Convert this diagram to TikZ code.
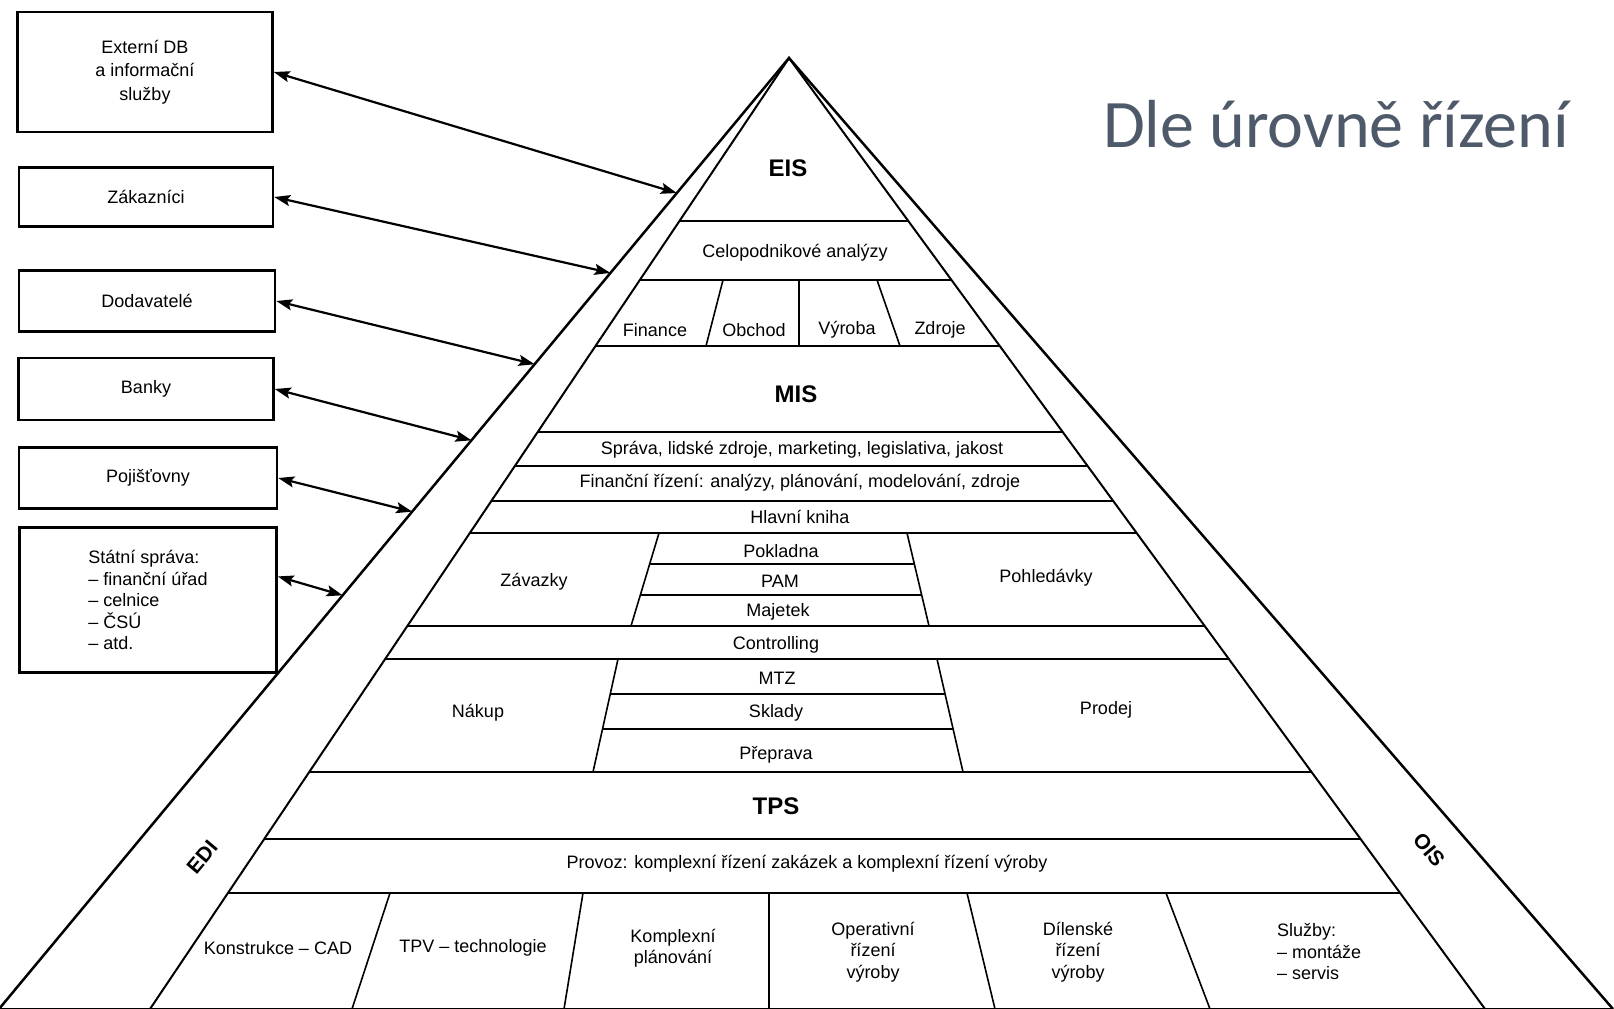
\documentclass[tikz,border=0pt]{standalone}
\usepackage{fontspec}
\setmainfont{Liberation Sans}
\newfontfamily\titlefont{Carlito}
\usetikzlibrary{calc,arrows.meta}
\definecolor{titlegrey}{RGB}{78,90,106}
\def\lblsize{\fontsize{18}{21.5}\selectfont}
\def\rowline#1#2{\draw[line width=#2] ($(top)!{(#1-58)/951}!(EDIin)$) -- ($(top)!{(#1-58)/951}!(OISin)$);}
\tikzset{
	box/.style={draw, line width=2.5pt, align=center, inner sep=0pt, font=\lblsize},
	lbl/.style={align=center, inner sep=0pt, font=\lblsize},
	lvl/.style={inner sep=0pt, font=\fontsize{24}{28}\selectfont\bfseries},
	band/.style={inner sep=0pt, font=\fontsize{21}{24}\selectfont\bfseries},
	link/.style={line width=2.2pt, {Stealth[length=16pt,width=11pt,inset=3pt]}-{Stealth[length=16pt,width=11pt,inset=3pt]}},
}

\begin{document}
\begin{tikzpicture}[x=1pt, y=-1pt]
			%%%%% START %%%%%
			\useasboundingbox[fill=white] (0, 0) rectangle (1614, 1009);
			
			\coordinate (top) at (789, 58);
			\coordinate (EDIout) at (-1, 1009);
			\coordinate (EDIin) at (150, 1009);
			\coordinate (OISin) at (1485, 1009);
			\coordinate (OISout) at (1613, 1009);
			
			\draw[line width=2.5pt] (EDIout) -- (top) -- (OISout);
			\draw[line width=2pt] (EDIin) -- (top) -- (OISin);
			\draw[line width=2pt] (EDIout) -- (OISout);
			
			\rowline{221}{2pt}
			\rowline{280}{2pt}
			\rowline{346}{2.8pt}
			\rowline{432}{2pt}
			\rowline{466}{2pt}
			\rowline{501}{2pt}
			\rowline{533}{2pt}
			\rowline{626}{2pt}
			\rowline{659}{2pt}
			\rowline{772}{2.8pt}
			\rowline{839}{2pt}
			\rowline{893}{2.2pt}
			
			% Finance / Obchod / Vyroba / Zdroje
			\draw[line width=1.6pt] (723, 280) -- (706, 346);
			\draw[line width=1.6pt] (799, 280) -- (799, 346);
			\draw[line width=1.6pt] (877, 280) -- (900, 346);
			
			% Zavazky block
			\coordinate (zl1) at (659, 533);
			\coordinate (zl2) at (631, 626);
			\coordinate (zr1) at (907, 533);
			\coordinate (zr2) at (929, 626);
			\draw[line width=1.6pt] (zl1) -- (zl2);
			\draw[line width=1.6pt] (zr1) -- (zr2);
			\draw[line width=2pt] ($(zl1)!0.333!(zl2)$) -- ($(zr1)!0.333!(zr2)$);
			\draw[line width=2pt] ($(zl1)!0.667!(zl2)$) -- ($(zr1)!0.667!(zr2)$);
			
			% Nakup block
			\coordinate (nl1) at (618, 659);
			\coordinate (nl2) at (593, 772);
			\coordinate (nr1) at (937, 659);
			\coordinate (nr2) at (963, 772);
			\draw[line width=1.6pt] (nl1) -- (nl2);
			\draw[line width=1.6pt] (nr1) -- (nr2);
			\draw[line width=2pt] ($(nl1)!0.31!(nl2)$) -- ($(nr1)!0.31!(nr2)$);
			\draw[line width=2pt] ($(nl1)!0.62!(nl2)$) -- ($(nr1)!0.62!(nr2)$);
			
			% bottom row
			\draw[line width=1.6pt] (390, 893) -- (352, 1009);
			\draw[line width=1.6pt] (583, 893) -- (564, 1009);
			\draw[line width=1.6pt] (769, 893) -- (769, 1009);
			\draw[line width=1.6pt] (967, 893) -- (995, 1009);
			\draw[line width=1.6pt] (1166, 893) -- (1210, 1009);
			
			\node[lvl] (eis) at (788, 168) {EIS};
			\node[lbl] (celo) at (795, 253) {Celopodnikové analýzy};
			\node[lbl] (fin) at (655, 330) {Finance};
			\node[lbl] (obch) at (754, 330) {Obchod};
			\node[lbl] (vyr) at (847, 330) {Výroba};
			\node[lbl] (zdr) at (940, 330) {Zdroje};
			\node[lvl] (mis) at (796, 394) {MIS};
			\node[lbl] (sprava) at (802, 450) {Správa, lidské zdroje, marketing, legislativa, jakost};
			\node[lbl] (finrz) at (800, 483) {Finanční řízení: analýzy, plánování, modelování, zdroje};
			\node[lbl] (hlkn) at (800, 517) {Hlavní kniha};
			\node[lbl] (zav) at (534, 582) {Závazky};
			\node[lbl] (pokl) at (781, 551) {Pokladna};
			\node[lbl] (pam) at (780, 581) {PAM};
			\node[lbl] (maj) at (778, 612) {Majetek};
			\node[lbl] (pohl) at (1046, 578) {Pohledávky};
			\node[lbl] (ctrl) at (776, 645) {Controlling};
			\node[lbl] (nak) at (478, 713) {Nákup};
			\node[lbl] (mtz) at (777, 678) {MTZ};
			\node[lbl] (skl) at (776, 713) {Sklady};
			\node[lbl] (prep) at (776, 755) {Přeprava};
			\node[lbl] (prod) at (1106, 710) {Prodej};
			\node[lvl] (tps) at (776, 806) {TPS};
			\node[lbl] (provoz) at (807, 864) {Provoz: komplexní řízení zakázek a komplexní řízení výroby};
			\node[lbl] (kons) at (278, 948) {Konstrukce – CAD};
			\node[lbl] (tpv) at (473, 948) {TPV – technologie};
			\node[lbl] (kplan) at (673, 948) {Komplexní\\plánování};
			\node[lbl] (oper) at (873, 952) {Operativní\\řízení\\výroby};
			\node[lbl] (dil) at (1078, 952) {Dílenské\\řízení\\výroby};
			\node[lbl, align=left, anchor=west] (sluz) at (1277, 952) {Služby:\\– montáže\\– servis};
			
			\node[band, rotate=50] (edi) at (202, 857) {EDI};
			\node[band, rotate=-50] (ois) at (1429, 850) {OIS};
			
			\node[font=\titlefont\fontsize{68}{80}\selectfont, text=titlegrey, inner sep=0pt, anchor=base] (title) at (1336, 147) {Dle úrovně řízení};
			
			% partners
			\node[box, minimum width=255, minimum height=120, font=\fontsize{18}{23.5}\selectfont] (ext) at (145, 72) {Externí DB\\a informační\\služby};
			\node[box, minimum width=254, minimum height=59] (zak) at (146, 197) {Zákazníci};
			\node[box, minimum width=256, minimum height=61] (dod) at (147, 301) {Dodavatelé};
			\node[box, minimum width=255, minimum height=62] (bank) at (146, 389) {Banky};
			\node[box, minimum width=258, minimum height=61] (poj) at (148, 478) {Pojišťovny};
			\node[box, minimum width=257, minimum height=145, align=left] (stat) at (148, 600) {Státní správa:\\– finanční úřad\\– celnice\\– ČSÚ\\– atd.};
			
			\coordinate (t1) at ($(top)!0.142!(EDIout)$);
			\coordinate (t2) at ($(top)!0.226!(EDIout)$);
			\coordinate (t3) at ($(top)!0.322!(EDIout)$);
			\coordinate (t4) at ($(top)!0.402!(EDIout)$);
			\coordinate (t5) at ($(top)!0.477!(EDIout)$);
			\coordinate (t6) at ($(top)!0.565!(EDIout)$);
			
			\draw[link] (ext.east) -- (t1);
			\draw[link] (zak.east) -- (t2);
			\draw[link] (dod.east) -- (t3);
			\draw[link] (bank.east) -- (t4);
			\draw[link] (poj.east) -- (t5);
			\draw[link] ($(stat.north east)!0.34!(stat.south east)$) -- (t6);
			%%%%% END %%%%%
\end{tikzpicture}
\end{document}
